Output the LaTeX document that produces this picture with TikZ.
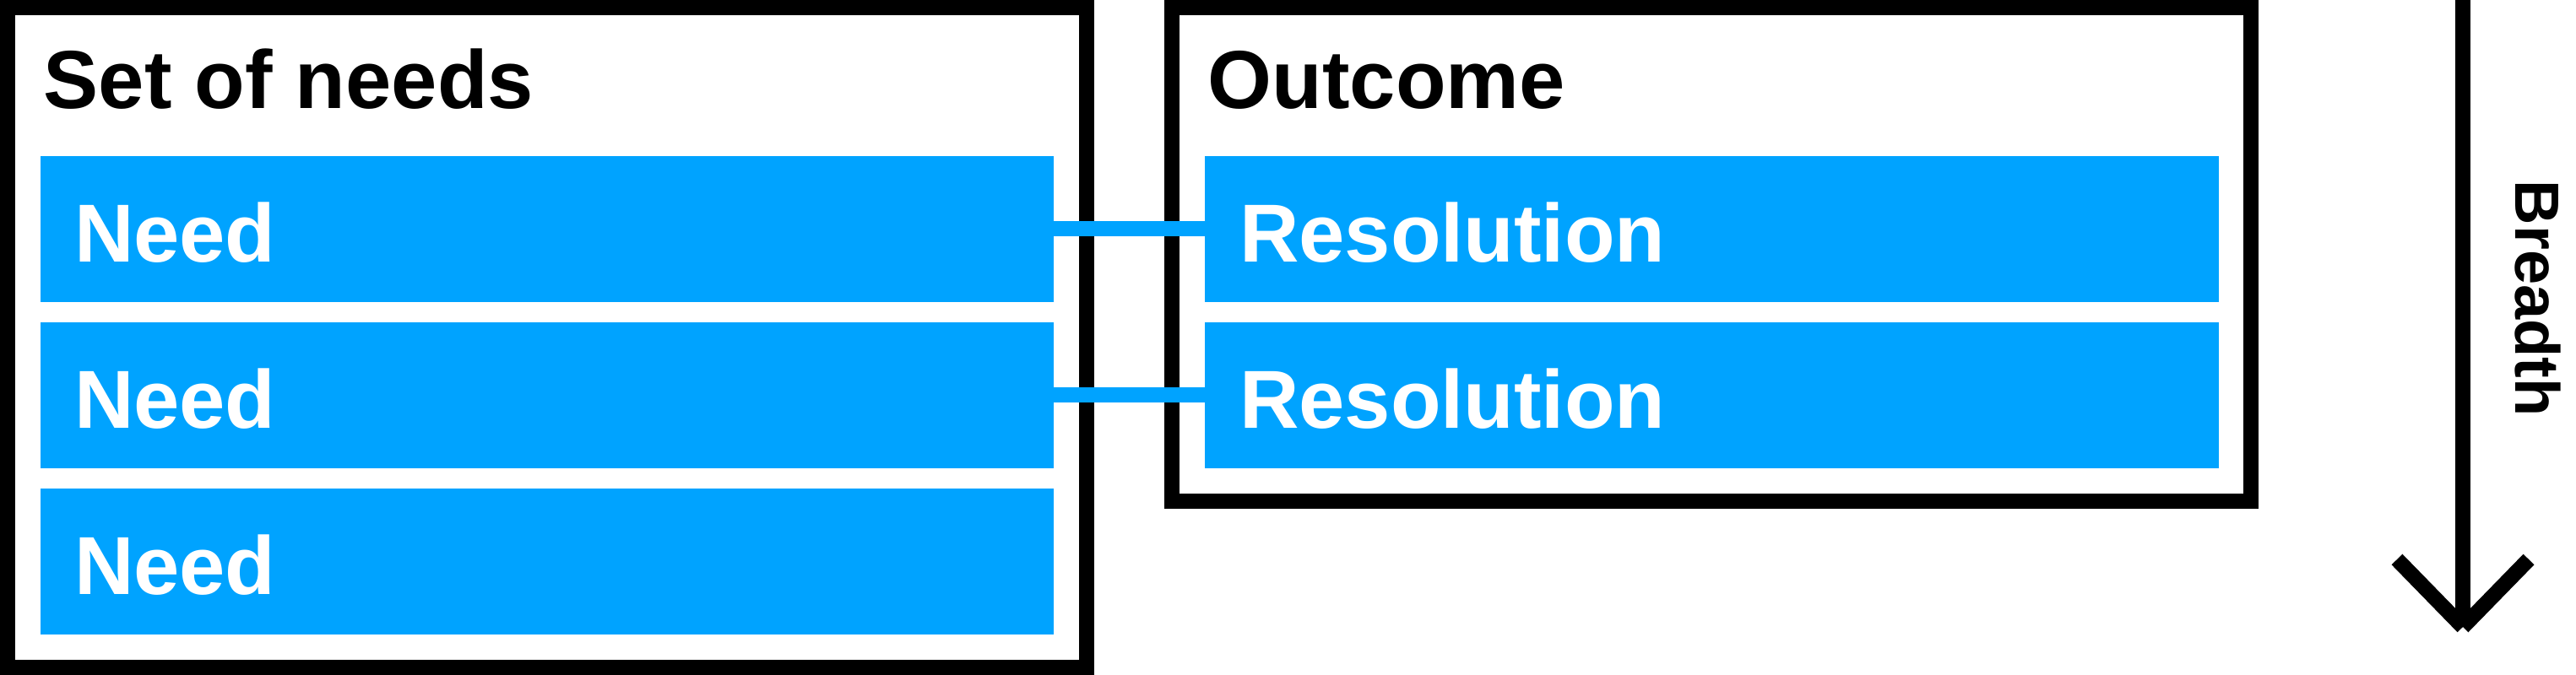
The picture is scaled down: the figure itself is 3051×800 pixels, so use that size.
\documentclass[tikz,border=0pt]{standalone}
\usepackage{fontspec}
\setmainfont{Liberation Sans}
\usepackage{xcolor}
\definecolor{skyblue}{RGB}{0,163,255}

\tikzset{
  frame/.style={draw=black, line width=4.5pt, anchor=north west, inner sep=0pt, outer sep=0pt},
  heading/.style={anchor=base west, inner sep=0pt, font=\bfseries\fontsize{24.4}{29}\selectfont},
  needbox/.style={fill=skyblue, text=white, anchor=north west, outer sep=0pt,
    font=\bfseries\fontsize{24.4}{29}\selectfont, align=left,
    text width=280pt, inner xsep=10pt, inner ysep=0pt,
    minimum height=43.25pt, text height=19.75pt, text depth=0pt},
  resbox/.style={needbox, text width=279.75pt, inner xsep=10.25pt},
  link/.style={draw=skyblue, line width=4.5pt},
  axisline/.style={draw=black, line width=4.5pt, line cap=butt}
}

\begin{document}
\begin{tikzpicture}[x=0.25pt,y=0.25pt,yscale=-1,xscale=1]
\useasboundingbox (0,0) rectangle (3051,800);

%Shape: Rectangle [needs frame]
\node [frame, minimum width=319.5pt, minimum height=195.5pt] (needs) at (9,9) {};
%Shape: Rectangle [outcome frame]
\node [frame, minimum width=319.5pt, minimum height=146.25pt] (outcome) at (1388,9) {};

% Text Node
\node [heading] (needsT) at (51,129) {Set of needs};
% Text Node
\node [heading] (outcomeT) at (1430,129) {Outcome};

%Shape: Rectangle [needs]
\node [needbox] (n1) at (48,185) {Need};
\node [needbox] (n2) at (48,382) {Need};
\node [needbox] (n3) at (48,579) {Need};
%Shape: Rectangle [resolutions]
\node [resbox] (r1) at (1427,185) {Resolution};
\node [resbox] (r2) at (1427,382) {Resolution};

%Straight Lines [links]
\draw [link] (n1.east) -- (r1.west);
\draw [link] (n2.east) -- (r2.west);

%Straight Lines [breadth axis]
\coordinate (btop) at (2917,0);
\coordinate (btip) at (2917,743);
\coordinate (bl) at (2839,663);
\coordinate (br) at (2995,663);
\draw [axisline] (btop) -- (btip);
\draw [axisline] (bl) -- (btip);
\draw [axisline] (br) -- (btip);

% Text Node
\node [anchor=base west, inner sep=0pt, rotate=-90, font=\bfseries\fontsize{18.5}{22}\selectfont] (breadth) at (2979,213) {Breadth};

\end{tikzpicture}
\end{document}
